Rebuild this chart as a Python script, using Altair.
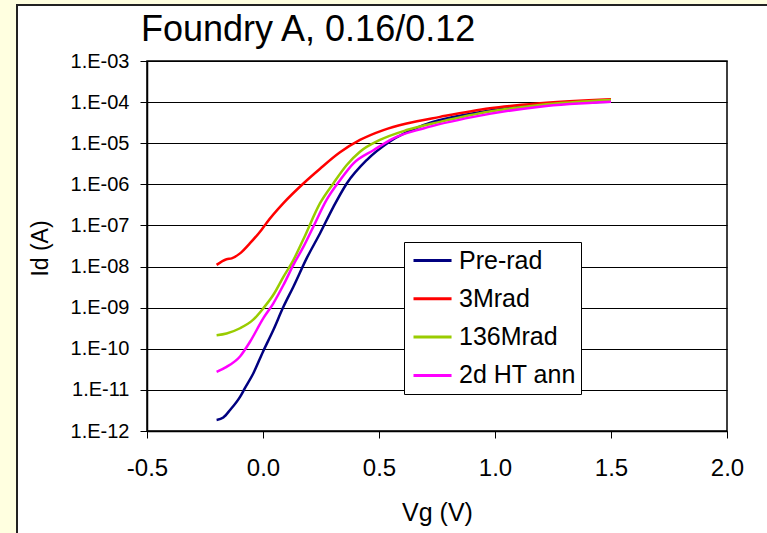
import altair as alt
import pandas as pd

chart_title = "Foundry A, 0.16/0.12"
series_names = ["Pre-rad", "3Mrad", "136Mrad", "2d HT ann"]
series_colors = ["#000080", "#FF0000", "#99CC00", "#FF00FF"]

vg_prerad = [-0.2, -0.171, -0.142, -0.099, -0.078, -0.042, 0.0, 0.044, 0.088, 0.131,
             0.188, 0.246, 0.303, 0.361, 0.447, 0.547, 0.691, 0.907, 1.194, 1.5]
id_prerad = [1.86e-12, 2.14e-12, 3.24e-12, 6.76e-12, 1.10e-11, 2.51e-11, 8.5e-11, 2.82e-10,
             1.05e-9, 3.24e-9, 1.58e-8, 6.46e-8, 2.8e-7, 1.05e-6, 3.89e-6, 1.10e-5,
             2.75e-5, 5.37e-5, 8.51e-5, 1.02e-4]

vg_3mrad = [-0.2, -0.157, -0.135, -0.099, -0.056, -0.006, 0.016, 0.088, 0.174, 0.246,
            0.332, 0.418, 0.519, 0.619, 0.763, 0.978, 1.194, 1.5]
id_3mrad = [1.10e-8, 1.51e-8, 1.58e-8, 2.09e-8, 3.7e-8, 7.9e-8, 1.17e-7, 3.5e-7,
            1.05e-6, 2.4e-6, 6.0e-6, 1.20e-5, 2.09e-5, 3.02e-5, 4.37e-5, 7.08e-5,
            9.33e-5, 1.17e-4]

vg_136mrad = [-0.2, -0.157, -0.099, -0.042, 0.001, 0.044, 0.088, 0.131, 0.174,
              0.246, 0.303, 0.361, 0.418, 0.504, 0.619, 0.763, 0.978, 1.194, 1.5]
id_136mrad = [2.14e-10, 2.36e-10, 3.16e-10, 5.1e-10, 9.6e-10, 2.03e-9, 5.6e-9, 1.44e-8,
              4.6e-8, 3.47e-7, 1.05e-6, 2.95e-6, 6.2e-6, 1.20e-5, 2.09e-5,
              3.3e-5, 5.9e-5, 8.5e-5, 1.12e-4]

vg_ann = [-0.2, -0.157, -0.099, -0.056, 0.001, 0.044, 0.088, 0.131, 0.174, 0.217,
          0.274, 0.332, 0.39, 0.476, 0.562, 0.691, 0.907, 1.194, 1.5]
id_ann = [2.75e-11, 3.63e-11, 6.5e-11, 1.48e-10, 5.5e-10, 1.26e-9, 3.55e-9, 1.10e-8,
          3.0e-8, 9.3e-8, 4.17e-7, 1.26e-6, 3.24e-6, 6.76e-6, 1.32e-5, 2.29e-5,
          4.37e-5, 7.76e-5, 1.02e-4]

x_ticks = [-0.5, 0.0, 0.5, 1.0, 1.5, 2.0]
y_ticks = [1e-12, 1e-11, 1e-10, 1e-9, 1e-8, 1e-7, 1e-6, 1e-5, 1e-4, 1e-3]

rows = []
for name, xs, ys in [("Pre-rad", vg_prerad, id_prerad), ("3Mrad", vg_3mrad, id_3mrad),
                     ("136Mrad", vg_136mrad, id_136mrad), ("2d HT ann", vg_ann, id_ann)]:
    for xv, yv in zip(xs, ys):
        rows.append({"Vg": xv, "Id": yv, "series": name})
df = pd.DataFrame(rows)

FONT = "Liberation Sans"
one = alt.Data(values=[{"k": 0}])

strip_left = alt.Chart(one).mark_rect(color="#FFFFE0").encode(
    x=alt.value(-147), x2=alt.value(-131), y=alt.value(-61), y2=alt.value(472))
strip_top = alt.Chart(one).mark_rect(color="#FFFFE0").encode(
    x=alt.value(-147), x2=alt.value(620), y=alt.value(-61), y2=alt.value(-57))
border = alt.Chart(one).mark_rect(fill="transparent", stroke="#222222", strokeWidth=2).encode(
    x=alt.value(-130), x2=alt.value(700), y=alt.value(-56), y2=alt.value(600))

title_text = alt.Chart(alt.Data(values=[{"t": chart_title}])).mark_text(
    font=FONT, fontSize=36, color="#000", align="left", baseline="alphabetic"
).encode(text="t:N", x=alt.value(-6), y=alt.value(-20))

lines = alt.Chart(df).mark_line(strokeWidth=2.5, interpolate="monotone").encode(
    x=alt.X("Vg:Q",
            scale=alt.Scale(domain=[-0.5, 2.0], nice=False, zero=False),
            axis=alt.Axis(title="Vg (V)", values=x_ticks, grid=False,
                          labelExpr="datum.value < 0 ? '-' + format(-datum.value, '.1f') : format(datum.value, '.1f')",
                          tickSize=7, tickColor="#000", domainColor="#000", domainWidth=1.5,
                          labelFontSize=24, labelFont=FONT, labelColor="#000", labelPadding=18,
                          labelFlush=False,
                          titleFont=FONT, titleFontSize=25, titleFontWeight="normal",
                          titleColor="#000", titleX=290, titleY=89,
                          titleBaseline="alphabetic", titleAlign="center")),
    y=alt.Y("Id:Q",
            scale=alt.Scale(type="log", domain=[1e-12, 1e-3], nice=False),
            axis=alt.Axis(title="Id (A)", values=y_ticks,
                          labelExpr="'1.E-' + (round(-log(datum.value)/LN10) < 10 ? '0' : '') + round(-log(datum.value)/LN10)",
                          grid=True, gridColor="#000", gridOpacity=1, gridWidth=1,
                          tickSize=7, tickColor="#000", domainColor="#000", domainWidth=1.5,
                          labelFontSize=20, labelFont=FONT, labelColor="#000", labelPadding=11,
                          labelFlush=False,
                          titleFont=FONT, titleFontSize=23, titleFontWeight="normal",
                          titleColor="#000", titleAngle=-90, titleX=-107, titleY=187,
                          titleBaseline="middle", titleAlign="center")),
    color=alt.Color("series:N",
                    scale=alt.Scale(domain=series_names, range=series_colors),
                    legend=alt.Legend(title=None, orient="none", legendX=257, legendY=181,
                                      direction="vertical", fillColor="white",
                                      strokeColor="#000", padding=5,
                                      symbolType="M-0.75,0H2.42", symbolSize=576,
                                      symbolStrokeWidth=3, labelFont=FONT,
                                      labelFontSize=25, labelColor="#000",
                                      labelOffset=23, rowPadding=11.3)),
)

chart = alt.layer(strip_left, strip_top, border, title_text, lines).properties(
    width=580, height=370,
    autosize=alt.AutoSizeParams(type="none"),
    padding={"left": 147, "top": 61, "right": 40, "bottom": 102},
).configure(background="white").configure_view(stroke="#000", strokeWidth=1.5)

chart.save("out.html", embed_options={"renderer": "svg", "actions": False})
